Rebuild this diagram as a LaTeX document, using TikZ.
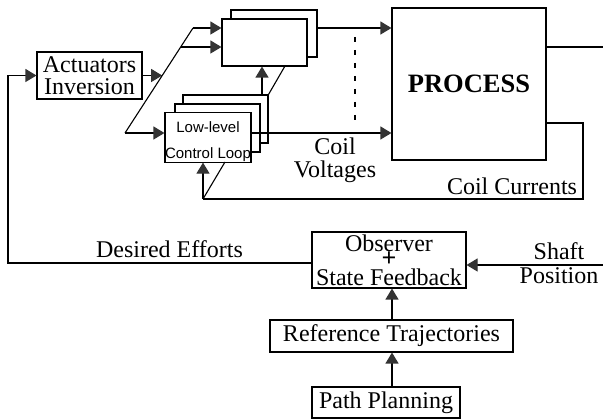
\documentclass[tikz,border=0pt]{standalone}
\usepackage{fontspec}
\setmainfont{Liberation Serif}
\newfontfamily\llsans{Liberation Sans}
\usetikzlibrary{arrows.meta}
\begin{document}
\begin{tikzpicture}[x=1pt,y=-1pt,line width=1.1pt,
  box/.style={draw,fill=white,inner sep=0pt,align=center,font=\fontsize{24}{22}\selectfont},
  lbl/.style={inner sep=0pt,align=center,font=\fontsize{24}{23}\selectfont},
  arr/.style={-{Triangle[length=11pt,width=13pt,color=black!80]}},
  dots/.style={dash pattern=on 5pt off 8pt,line width=1.5pt}]
\useasboundingbox (0,0) rectangle (603,419);

% boxes
\node[box,minimum width=105pt,minimum height=47pt] (act) at (89.5,75.5) {Actuators\\Inversion};
\node[box,minimum width=86pt,minimum height=47pt] (topb) at (274,33.5) {};
\node[box,minimum width=85pt,minimum height=47pt] (topf) at (264.5,42.5) {};
\node[box,minimum width=85pt,minimum height=48pt] (llb) at (225.5,119) {};
\node[box,minimum width=85pt,minimum height=48pt] (llm) at (217.5,128) {};
\node[box,minimum width=86pt,minimum height=49pt,font=\llsans\fontsize{15}{26}\selectfont] (llf) at (208,137.5) {\rule{0pt}{20pt}Low-level\\Control Loop};
\node[box,minimum width=154pt,minimum height=152pt,font=\fontsize{26.5}{30}\selectfont\bfseries] (proc) at (469,84) {PROCESS};
\node[box,minimum width=154pt,minimum height=56pt,font=\fontsize{24}{17}\selectfont] (obs) at (389,260) {Observer\\\raisebox{2pt}{\bfseries\fontsize{26}{17}\selectfont +}\\State Feedback};
\node[box,minimum width=243pt,minimum height=32pt] (rt) at (391.5,336) {Reference Trajectories};
\node[box,minimum width=148pt,minimum height=31pt] (pp) at (386,402.5) {Path Planning};

% labels
\node[lbl] (cvl) at (335,160) {Coil\\Voltages};
\node[lbl,font=\fontsize{24}{24}\selectfont] (spl) at (559,263) {Shaft\\Position};
\node[lbl,anchor=base] (del) at (169.5,258) {Desired Efforts};
\node[lbl,anchor=base] (ccl) at (512,195) {Coil Currents};

% helper coordinates
\coordinate (dTop) at (193,28);
\coordinate (dMid) at (180.7,47);
\coordinate (dBot) at (125,133);
\coordinate (aTip) at (162.2,75.5);
\coordinate (lc) at (8,263);
\coordinate (pout) at (603,47);
\coordinate (cc1) at (583,123);
\coordinate (cc2) at (583,199);
\coordinate (cc3) at (203,199);
\coordinate (cc4) at (225,162);
\coordinate (vs) at (262,95);
\coordinate (vd) at (285,66);
\coordinate (sp) at (603,265);
\coordinate (vx) at (392,0);
\coordinate (dt1) at (355,37);
\coordinate (dt2) at (355,123);

% connectors
\draw[arr] ([yshift=-3pt]obs.west) -- (lc) |- (act.west);
\draw[arr] (act.east) -- (aTip);
\draw (dBot) -- (dTop);
\draw[arr] (dTop) -- (dTop -| topf.west);
\draw[arr] (dMid) -- (dMid -| topf.west);
\draw[arr] (dBot) -- (dBot -| llf.west);
\draw[arr] (dTop -| topb.east) -- (dTop -| proc.west);
\draw[dots] (dt1) -- (dt2);
\draw[arr] (dBot -| llf.east) -- (dBot -| proc.west);
\draw[arr] (vs) -- (vs |- topf.south);
\draw (llb.north east) -- (vd);
\draw (pout -| proc.east) -- (pout);
\draw (cc1 -| proc.east) -- (cc1) -- (cc2) -- (cc3);
\draw[arr] (cc3) -- (cc3 |- llf.south);
\draw (cc3) -- (cc4);
\draw[arr] (sp) -- (sp -| obs.east);
\draw[arr] (rt.north -| vx) -- (obs.south -| vx);
\draw[arr] (pp.north -| vx) -- (rt.south -| vx);
\end{tikzpicture}
\end{document}
